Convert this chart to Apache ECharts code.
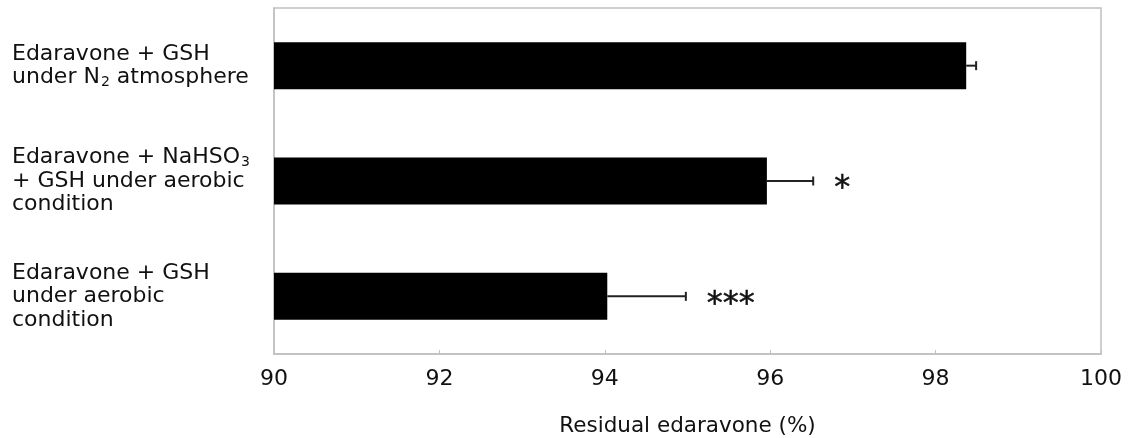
<!DOCTYPE html>
<html>
<head>
<meta charset="utf-8">
<script src="https://cdn.jsdelivr.net/npm/echarts@6/dist/echarts.min.js"></script>
<style>
  html, body { margin: 0; padding: 0; background: #fff; }
  #chart { width: 1129px; height: 438px; }
</style>
</head>
<body>
<div id="chart"></div>
<script>
// Category labels (rich-text markup: {sub|..} renders a subscript)
const categories = [
  'Edaravone + GSH\nunder N{sub|2} atmosphere',
  'Edaravone + NaHSO{sub|3}\n+ GSH under aerobic\ncondition',
  'Edaravone + GSH\nunder aerobic\ncondition'
];
// Mean residual edaravone (%) and error (SD)
const means = [98.37, 95.96, 94.03];
const errors = [0.12, 0.56, 0.95];
// Significance marks
const marks = ['', '*', '***'];
// Axis ticks
const xTicks = [90, 92, 94, 96, 98, 100];

const FONT = 'DejaVu Sans';
const TEXT = '#111';
const FRAME = '#c0c0c0';

const chart = echarts.init(document.getElementById('chart'), null, { renderer: 'canvas' });

const errData = means.map((m, i) => [m, i, errors[i]]);

chart.setOption({
  animation: false,
  backgroundColor: '#fff',
  grid: {
    left: 274, right: 28, top: 8, bottom: 84,
    outerBoundsMode: 'none',
    containLabel: false,
    show: true, borderColor: FRAME, borderWidth: 1.5, backgroundColor: 'transparent'
  },
  xAxis: {
    type: 'value',
    min: xTicks[0], max: xTicks[xTicks.length - 1], interval: 2,
    name: 'Residual edaravone (%)',
    nameLocation: 'middle',
    nameGap: 61,
    nameTextStyle: { fontFamily: FONT, fontSize: 21.5, color: TEXT },
    axisLine: { show: true, lineStyle: { color: FRAME, width: 1.5 } },
    axisTick: { show: true, inside: true, length: 4, lineStyle: { color: FRAME } },
    splitLine: { show: false },
    axisLabel: { fontFamily: FONT, fontSize: 22, color: TEXT, margin: 14 }
  },
  yAxis: {
    type: 'category',
    inverse: true,
    data: categories,
    axisLine: { show: true, lineStyle: { color: FRAME, width: 1.5 } },
    axisTick: { show: false },
    axisLabel: {
      align: 'left',
      margin: 262,
      fontFamily: FONT, fontSize: 22, color: TEXT, lineHeight: 23.5,
      rich: {
        sub: { fontFamily: FONT, fontSize: 14, color: TEXT, lineHeight: 23.5, padding: [9, 0, 0, 1] }
      }
    }
  },
  series: [
    {
      type: 'bar',
      data: means,
      barWidth: 47,
      itemStyle: { color: '#000' },
      clip: true,
      z: 2
    },
    {
      type: 'custom',
      data: errData,
      z: 3,
      renderItem: function (params, api) {
        const m = api.value(0), idx = api.value(1), e = api.value(2);
        const mark = marks[idx];
        const p0 = api.coord([m, idx]);
        const p1 = api.coord([m + e, idx]);
        const cap = 4.5;
        const style = { stroke: '#222', lineWidth: 2 };
        const children = [
          { type: 'line', shape: { x1: p0[0], y1: p0[1], x2: p1[0], y2: p1[1] }, style: style },
          { type: 'line', shape: { x1: p1[0], y1: p1[1] - cap, x2: p1[0], y2: p1[1] + cap }, style: style }
        ];
        if (mark) {
          children.push({
            type: 'text',
            style: {
              text: mark, x: p1[0] + 21, y: p1[1] + 8,
              fontFamily: FONT, fontSize: 32, fill: '#111',
              align: 'left', verticalAlign: 'middle',
              stroke: '#111', lineWidth: 0.5
            }
          });
        }
        return { type: 'group', children: children };
      }
    }
  ]
});
</script>
</body>
</html>
